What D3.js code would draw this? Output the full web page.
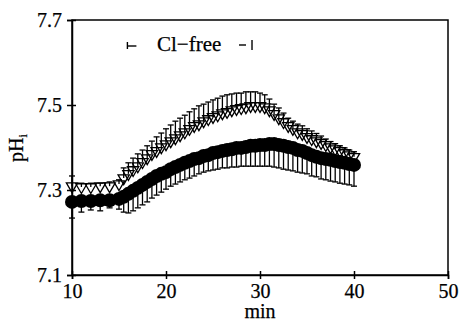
<!DOCTYPE html>
<html><head><meta charset="utf-8">
<script src="https://cdn.jsdelivr.net/npm/d3@7"></script>
<style>
html,body{margin:0;padding:0;background:#fff;}
svg{display:block;}
svg text{font-family:"Liberation Serif","Times New Roman",serif !important;fill:#000;stroke:#000;stroke-width:0.25px;}
</style></head>
<body>
<svg id="chart" width="462" height="321"></svg>
<script>
// ---- data ----
const times = [10,11,12,13,14,15,15.5,16,16.5,17,17.5,18,18.5,19,19.5,20,20.5,21,21.5,22,22.5,23,23.5,24,24.5,25,25.5,26,26.5,27,27.5,28,28.5,29,29.5,30,30.5,31,31.5,32,32.5,33,33.5,34,34.5,35,35.5,36,36.5,37,37.5,38,38.5,39,39.5,40];
// open triangles (Cl-free), mean pHi and SE (bars drawn upward)
const clFreeMean = [7.309,7.307,7.307,7.309,7.309,7.314,7.328,7.338,7.347,7.356,7.366,7.375,7.385,7.392,7.401,7.408,7.415,7.422,7.429,7.436,7.444,7.451,7.455,7.462,7.467,7.472,7.476,7.481,7.484,7.488,7.491,7.493,7.495,7.498,7.498,7.498,7.495,7.488,7.479,7.469,7.460,7.451,7.444,7.436,7.432,7.425,7.420,7.415,7.411,7.406,7.401,7.396,7.392,7.387,7.382,7.378];
const clFreeSE = [0.024,0.009,0.009,0.007,0.010,0.010,0.024,0.026,0.028,0.029,0.028,0.029,0.030,0.033,0.033,0.036,0.038,0.040,0.040,0.040,0.040,0.040,0.043,0.040,0.040,0.040,0.040,0.040,0.040,0.038,0.037,0.035,0.036,0.033,0.033,0.030,0.029,0.026,0.023,0.024,0.021,0.018,0.018,0.019,0.019,0.019,0.019,0.018,0.016,0.014,0.013,0.013,0.012,0.012,0.012,0.012];
// filled circles (control), mean pHi and SE (bars drawn downward)
const controlMean = [7.272,7.274,7.274,7.276,7.276,7.279,7.284,7.291,7.298,7.305,7.312,7.319,7.326,7.333,7.338,7.342,7.349,7.354,7.359,7.364,7.368,7.373,7.375,7.380,7.382,7.387,7.389,7.392,7.394,7.396,7.399,7.399,7.401,7.404,7.404,7.406,7.406,7.408,7.408,7.406,7.404,7.401,7.399,7.394,7.392,7.387,7.382,7.378,7.375,7.373,7.371,7.368,7.366,7.364,7.361,7.359];
const controlSE = [0.038,0.026,0.021,0.025,0.018,0.024,0.036,0.045,0.047,0.047,0.047,0.047,0.045,0.045,0.043,0.040,0.040,0.040,0.040,0.040,0.040,0.040,0.037,0.038,0.037,0.040,0.040,0.040,0.042,0.042,0.045,0.043,0.045,0.048,0.048,0.050,0.050,0.052,0.054,0.054,0.055,0.054,0.054,0.052,0.052,0.049,0.049,0.047,0.049,0.049,0.050,0.049,0.050,0.050,0.049,0.050];
const clFreePeriod = [16, 29.15];
const xTicks = [10,20,30,40,50];
const yTicks = [7.1,7.3,7.5,7.7];
const legendLabel = "Cl\u2212free";

// ---- chart ----
const svg = d3.select("#chart");
const x = d3.scaleLinear().domain([10,50]).range([72,448]);
const y = d3.scaleLinear().domain([7.1,7.7]).range([275,20]);
const FS = 20;

// frame
svg.append("rect").attr("x",x(10)).attr("y",y(7.7))
  .attr("width",x(50)-x(10)).attr("height",y(7.1)-y(7.7))
  .attr("fill","none").attr("stroke","#000").attr("stroke-width",1.5);

// axes
const yAxis = svg.append("g").attr("transform",`translate(${x(10)},0)`)
  .call(d3.axisLeft(y).tickValues(yTicks).tickFormat(d3.format(".1f")).tickSize(5).tickPadding(5));
const xAxis = svg.append("g").attr("transform",`translate(0,${y(7.1)})`)
  .call(d3.axisBottom(x).tickValues(xTicks).tickFormat(d3.format("d")).tickSize(4).tickPadding(5));
[yAxis,xAxis].forEach(g=>{
  g.attr("font-family",null).attr("font-size",null);
  g.select(".domain").attr("stroke","#000").attr("stroke-width",1.5);
  g.selectAll(".tick text").style("font-size",FS+"px");
  g.selectAll(".tick line").attr("stroke","#000").attr("stroke-width",1.5);
});
yAxis.selectAll(".tick line").attr("x1",4);
xAxis.selectAll(".tick line").attr("y1",-4);

// axis titles
svg.append("text").attr("x",x(30)).attr("y",318).attr("text-anchor","middle")
  .style("font-size",FS+"px").text("min");
const yl = svg.append("text").attr("transform","translate(23,148) rotate(-90)")
  .attr("text-anchor","middle").style("font-size",FS+"px");
yl.append("tspan").text("pH");
yl.append("tspan").style("font-size","12px").attr("dy",4).text("i");

// legend bracket for Cl-free period
const lg = svg.append("g").attr("stroke","#000").attr("stroke-width",1.4);
lg.append("line").attr("x1",x(clFreePeriod[0])-1).attr("x2",x(clFreePeriod[0])-1).attr("y1",42).attr("y2",49);
lg.append("line").attr("x1",x(clFreePeriod[0])-1).attr("x2",x(clFreePeriod[0])+8).attr("y1",46).attr("y2",46);
lg.append("line").attr("x1",x(clFreePeriod[1])).attr("x2",x(clFreePeriod[1])).attr("y1",40).attr("y2",50);
lg.append("line").attr("x1",x(clFreePeriod[1])-13).attr("x2",x(clFreePeriod[1])-6).attr("y1",45).attr("y2",45);
svg.append("text").attr("x",157).attr("y",51).style("font-size","21px").text(legendLabel);

// data records
const ctrl = times.map((t,i)=>({t, m:controlMean[i], se:controlSE[i]}));
const free = times.map((t,i)=>({t, m:clFreeMean[i], se:clFreeSE[i]}));
const capW = 3;

// control error bars (downward)
const ce = svg.append("g").attr("stroke","#000").attr("stroke-width",1.3);
ce.selectAll("line.s").data(ctrl).join("line").attr("class","s")
  .attr("x1",d=>x(d.t)).attr("x2",d=>x(d.t)).attr("y1",d=>y(d.m)).attr("y2",d=>y(d.m-d.se));
ce.selectAll("line.c").data(ctrl).join("line").attr("class","c")
  .attr("x1",d=>x(d.t)-capW).attr("x2",d=>x(d.t)+capW).attr("y1",d=>y(d.m-d.se)).attr("y2",d=>y(d.m-d.se));

// Cl-free error bars (upward)
const fe = svg.append("g").attr("stroke","#000").attr("stroke-width",1.3);
fe.selectAll("line.s").data(free).join("line").attr("class","s")
  .attr("x1",d=>x(d.t)).attr("x2",d=>x(d.t)).attr("y1",d=>y(d.m)).attr("y2",d=>y(d.m+d.se));
fe.selectAll("line.c").data(free).join("line").attr("class","c")
  .attr("x1",d=>x(d.t)-capW).attr("x2",d=>x(d.t)+capW).attr("y1",d=>y(d.m+d.se)).attr("y2",d=>y(d.m+d.se));

// filled circles
svg.append("g").selectAll("circle").data(ctrl).join("circle")
  .attr("cx",d=>x(d.t)).attr("cy",d=>y(d.m)).attr("r",7).attr("fill","#000");

// open downward triangles
const tri = d3.symbol().type(d3.symbolTriangle).size(55);
svg.append("g").selectAll("path").data(free).join("path")
  .attr("d",tri)
  .attr("transform",d=>`translate(${x(d.t)},${y(d.m)}) rotate(180)`)
  .attr("fill","none").attr("stroke","#000").attr("stroke-width",1.3);
</script>
</body></html>
